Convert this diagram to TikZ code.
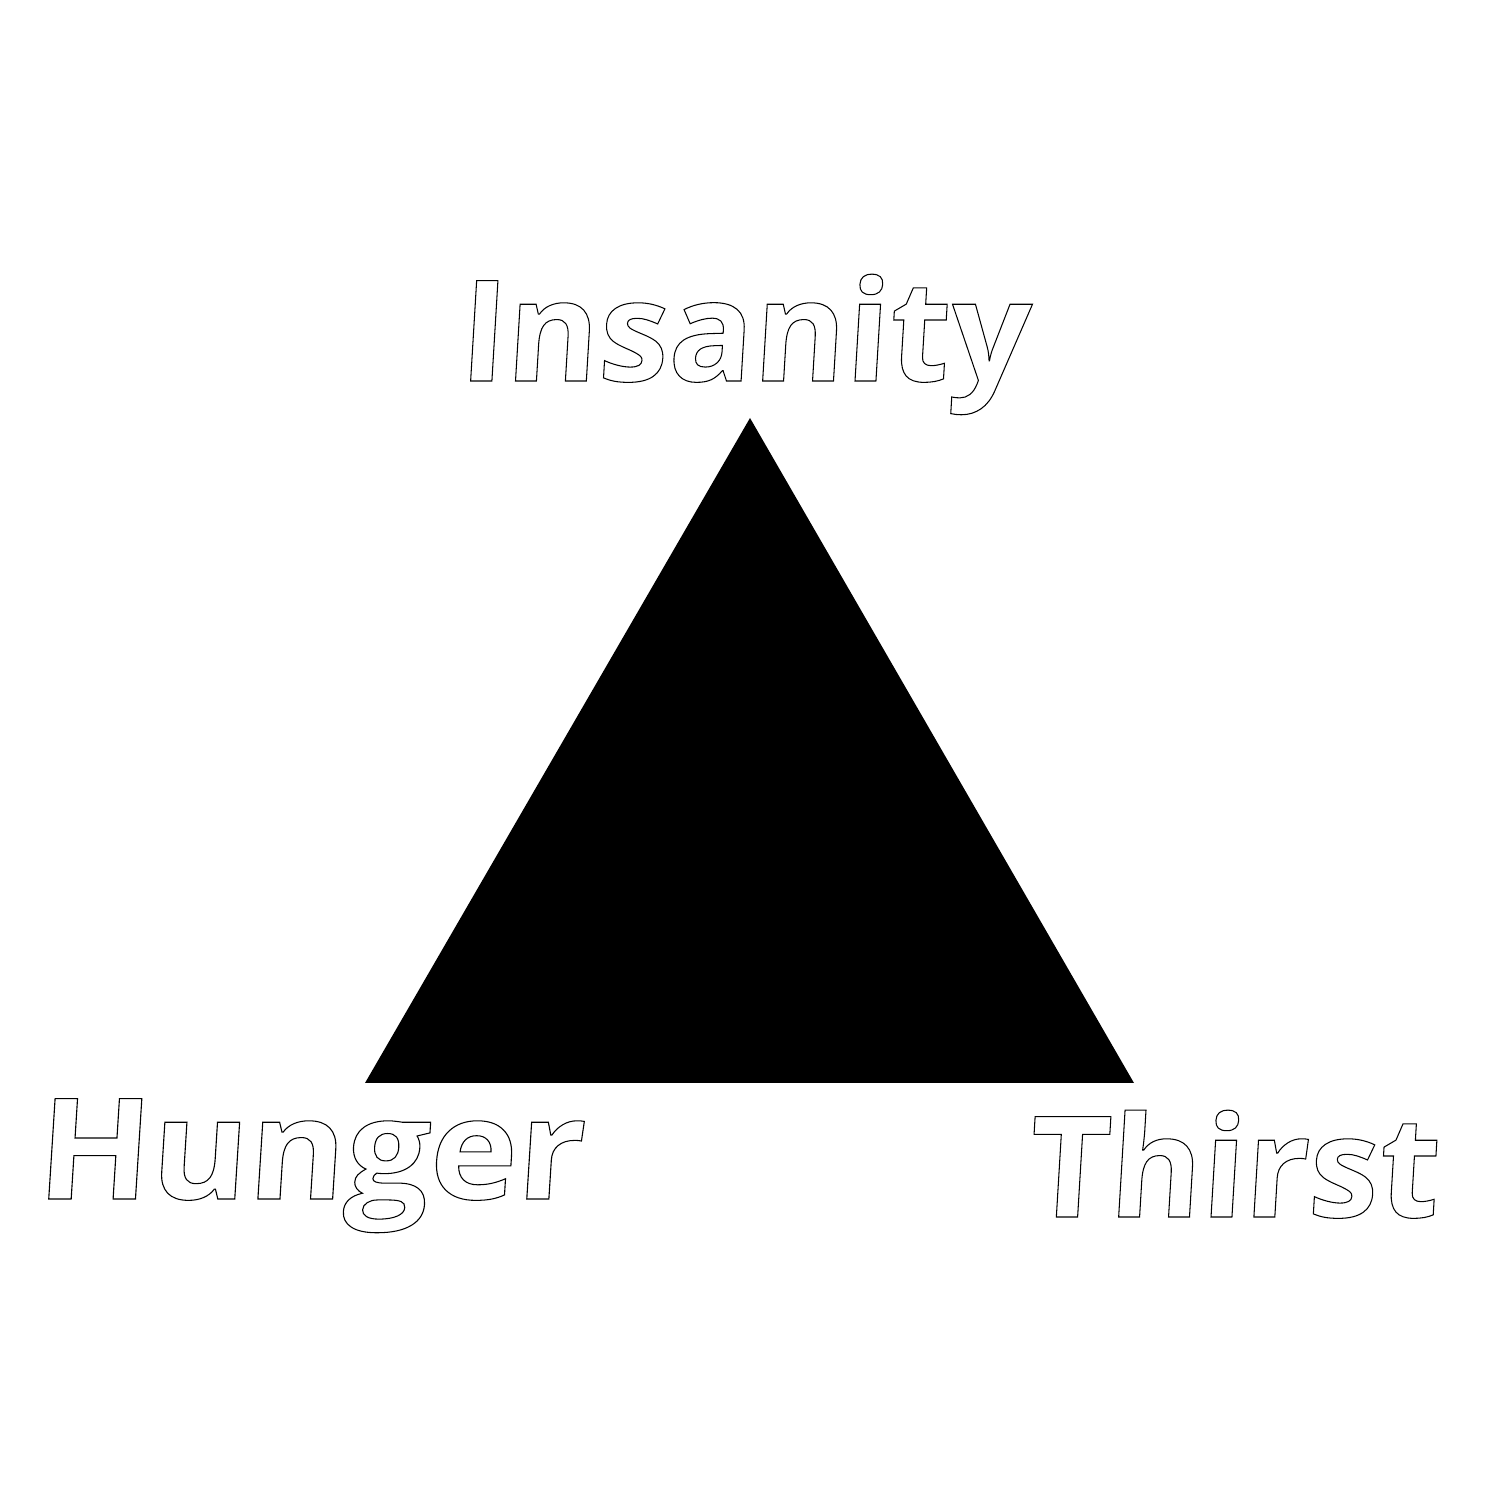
\documentclass[tikz,border=0pt]{standalone}
\usepackage{fontspec}
\usepackage{tikz}
\usetikzlibrary{positioning}
\newfontfamily\labelfont[FakeSlant=0.06]{Open Sans}
% outlined glyphs: text render mode 1 (stroke only)
\newcommand{\outlined}[1]{\special{pdf:literal direct 0.3 w 1 Tr}#1\special{pdf:literal direct 0 Tr}}

\begin{document}
\begin{tikzpicture}[
    every node/.style={inner sep=0pt},
    cornerLabel/.style={font=\labelfont\bfseries\fontsize{40}{48}\selectfont, anchor=base}
]
    \useasboundingbox (0,0) rectangle (15,15);

    \coordinate (top) at (7.50,10.82);
    \coordinate (left) at (3.65,4.17);
    \coordinate (right) at (11.34,4.17);
    \fill [black] (top) -- (left) -- (right) -- cycle;

    \node [cornerLabel] (insanity) at (7.43,11.19) {\outlined{Insanity}};
    \node [cornerLabel, transform shape, xscale=1.055] (hunger) at (3.09,3.01) {\outlined{Hunger}};
    \node [cornerLabel] (thirst) at (12.32,2.83) {\outlined{Thirst}};
\end{tikzpicture}
\end{document}
